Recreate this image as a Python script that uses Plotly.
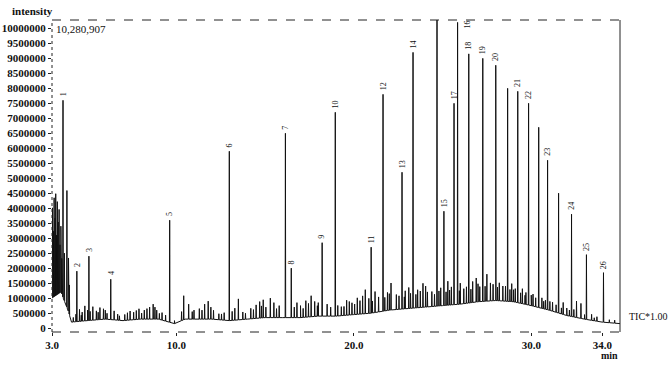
import numpy as np
import plotly.graph_objects as go

# ---- data (retention time in min, intensity in millions of counts) ----
peak_labels = [str(i) for i in range(1, 27)]
peak_times = [3.62, 4.40, 5.08, 6.31, 9.63, 12.99, 16.15, 16.48, 18.22, 18.96,
              20.98, 21.65, 22.72, 23.34, 25.08, 25.85, 25.65, 26.48, 27.27, 28.00,
              29.24, 29.85, 30.92, 32.27, 33.11, 34.07]
peak_tops = [7.6, 1.9, 2.4, 1.63, 3.6, 5.9, 6.5, 2.0, 2.85, 7.2,
             2.7, 7.8, 5.2, 9.2, 3.9, 10.2, 7.5, 9.15, 9.0, 8.77,
             7.9, 7.5, 5.6, 3.8, 2.45, 1.85]

# unlabelled large peaks (absolute tops)
other_times = [24.69, 28.67, 30.42, 31.54]
other_tops = [10.28, 8.0, 6.7, 4.5]

# baseline drift knots
base_times = [3.0, 3.5, 3.9, 4.1, 5.0, 6.0, 7.0, 8.0, 9.0, 9.9, 10.5, 12.0, 13.0, 14.0,
              15.0, 16.0, 17.0, 18.0, 19.0, 20.0, 21.0, 22.0, 23.0, 24.0, 25.0, 26.0,
              27.0, 28.0, 29.0, 30.0, 31.0, 32.0, 33.0, 34.0, 35.0]
base_levels = [1.0, 1.2, 0.6, 0.2, 0.25, 0.3, 0.25, 0.3, 0.3, 0.15, 0.3, 0.3, 0.25, 0.3,
               0.35, 0.35, 0.35, 0.4, 0.4, 0.45, 0.5, 0.6, 0.65, 0.7, 0.75, 0.8,
               0.88, 0.92, 0.88, 0.75, 0.6, 0.42, 0.3, 0.2, 0.15]

# minor peaks (height above baseline)
minor_times = [3.03, 3.08, 3.12, 3.17, 3.21, 3.26, 3.30, 3.35, 3.40, 3.45, 3.50, 3.55, 3.70,
               3.84, 3.93, 3.98,
               4.2, 4.55, 4.7, 4.85, 5.0, 5.3, 5.5, 5.7, 5.9, 6.1, 6.5, 6.8, 7.1, 7.4, 7.6,
               7.9, 8.2, 8.5, 8.7, 8.9, 9.2, 9.4, 9.9,
               10.3, 10.42, 10.7, 11.0, 11.3, 11.6, 11.8, 12.1, 12.4, 12.7, 13.3, 13.5, 13.9,
               14.2, 14.5, 14.7, 14.9, 15.3, 15.5, 15.8, 16.8, 17.0, 17.3, 17.6, 17.8, 18.0,
               18.5, 19.3, 19.6, 19.9,
               20.2, 20.5, 20.65, 21.2, 21.9, 22.1, 22.4, 22.9, 23.1, 23.6, 23.9, 24.05, 24.4,
               24.9, 25.3, 25.5, 26.0, 26.2, 26.7, 26.9, 27.1, 27.5, 27.7, 28.2, 28.4, 28.9,
               29.0, 29.5, 29.7, 30.1, 30.6, 30.8, 31.2, 31.4, 31.8, 32.0, 32.55, 32.8, 33.4,
               33.7, 34.4, 34.7,
               4.35, 4.65, 5.15, 5.6, 6.0, 6.7, 7.25, 7.75, 8.05, 8.35, 8.8, 9.05,
               10.9, 11.45, 11.95, 12.55, 13.15, 13.75, 14.35, 14.8, 15.05, 15.65, 16.65,
               17.15, 17.45, 17.95, 18.7, 19.1, 19.45, 19.75,
               20.05, 20.35, 20.85, 21.05, 21.4, 21.75, 22.0, 22.55, 22.85, 23.2, 23.5, 23.75,
               24.15, 24.55, 24.8, 25.2, 25.4, 25.95, 26.35, 26.6, 27.0, 27.4, 27.85, 28.1,
               28.55, 28.8, 29.1, 29.4, 29.65, 30.0, 30.25, 30.7, 31.05, 31.7, 32.15, 32.4,
               33.0, 33.55]
minor_heights = [3.0, 2.2, 3.3, 2.6, 3.4, 2.0, 3.1, 2.4, 2.8, 1.6, 2.2, 1.2, 1.6,
                 3.9, 1.8, 1.0,
                 0.15, 0.4, 0.3, 0.5, 0.35, 0.45, 0.3, 0.4, 0.35, 0.2, 0.3, 0.15, 0.2, 0.3, 0.25,
                 0.35, 0.3, 0.4, 0.5, 0.3, 0.25, 0.2, 0.1,
                 0.3, 0.8, 0.5, 0.3, 0.35, 0.5, 0.6, 0.3, 0.2, 0.25, 0.4, 0.7, 0.2,
                 0.35, 0.45, 0.55, 0.6, 0.65, 0.5, 0.4, 0.5, 0.4, 0.55, 0.7, 0.5, 0.45,
                 0.4, 0.3, 0.5, 0.4,
                 0.55, 0.6, 0.8, 0.7, 0.6, 0.9, 0.5, 0.6, 0.7, 0.6, 0.8, 0.7, 0.5,
                 0.6, 0.8, 0.6, 0.7, 0.5, 0.7, 0.8, 0.5, 0.9, 0.6, 0.6, 0.5, 0.6,
                 0.4, 0.5, 0.4, 0.4, 0.35, 0.3, 0.3, 0.25, 0.4, 0.25, 0.55, 0.5, 0.2,
                 0.15, 0.1, 0.1,
                 0.25, 0.2, 0.3, 0.25, 0.3, 0.2, 0.25, 0.3, 0.2, 0.35, 0.4, 0.2,
                 0.25, 0.3, 0.4, 0.2, 0.3, 0.25, 0.3, 0.4, 0.35, 0.3, 0.35,
                 0.3, 0.45, 0.35, 0.3, 0.35, 0.3, 0.45,
                 0.35, 0.45, 0.5, 0.4, 0.5, 0.45, 0.55, 0.45, 0.4, 0.5, 0.45, 0.55,
                 0.5, 0.4, 0.5, 0.45, 0.5, 0.45, 0.55, 0.45, 0.6, 0.5, 0.55, 0.45,
                 0.5, 0.4, 0.45, 0.35, 0.3, 0.35, 0.3, 0.25, 0.3, 0.2, 0.2, 0.25,
                 0.15, 0.1]

y_ticks = [i * 500000 for i in range(21)]
x_ticks = [3.0, 10.0, 20.0, 30.0, 34.0]
x_tick_text = ["3.0", "10.0", "20.0", "30.0", "34.0"]

# ---- build the chromatogram polyline from the peak table ----
def base(t):
    return np.interp(t, base_times, base_levels)

w = 0.015
pts = [(t, b) for t, b in zip(base_times, base_levels)]
all_peaks = [(t, top) for t, top in zip(peak_times, peak_tops)]
all_peaks += [(t, top) for t, top in zip(other_times, other_tops)]
all_peaks += [(t, base(t) + h) for t, h in zip(minor_times, minor_heights)]
for t, top in all_peaks:
    pts.append((t - w, float(base(t - w))))
    pts.append((t, top))
    pts.append((t + w, float(base(t + w))))
pts.sort(key=lambda p: p[0])
xs = [p[0] for p in pts]
ys = [p[1] * 1e6 for p in pts]

fig = go.Figure()
fig.add_trace(go.Scatter(x=xs, y=ys, mode="lines",
                         line=dict(color="#111111", width=1), hoverinfo="skip"))

serif = "Liberation Serif, Times New Roman, Times, serif"
for lab, t, top in zip(peak_labels, peak_times, peak_tops):
    if lab == "16":
        fig.add_annotation(x=t, y=top * 1e6, text=lab, showarrow=False, textangle=-90,
                           xanchor="left", yanchor="top", xshift=3, yshift=4,
                           font=dict(family=serif, size=8, color="#111"))
    else:
        fig.add_annotation(x=t, y=top * 1e6, text=lab, showarrow=False, textangle=-90,
                           xanchor="center", yanchor="bottom", yshift=2,
                           font=dict(family=serif, size=8, color="#111"))

fig.add_annotation(xref="paper", yref="paper", x=-0.074, y=1.0, yshift=1,
                   text="<b>intensity</b>", showarrow=False, xanchor="left", yanchor="bottom",
                   font=dict(family=serif, size=11, color="#111"))
fig.add_annotation(xref="paper", yref="paper", x=0.003, y=1.0, yshift=-1,
                   text="10,280,907", showarrow=False, xanchor="left", yanchor="top",
                   font=dict(family=serif, size=11, color="#111"))
fig.add_annotation(xref="paper", yref="paper", x=1.0, y=0.051, xshift=7,
                   text="TIC*1.00", showarrow=False, xanchor="left", yanchor="middle",
                   font=dict(family=serif, size=10, color="#111"))
fig.add_annotation(xref="paper", yref="paper", x=0.982, y=0, yshift=-23,
                   text="<b>min</b>", showarrow=False, xanchor="center", yanchor="middle",
                   font=dict(family=serif, size=10, color="#111"))

# frame (scanned look: dashed left/top/bottom, solid right)
fig.add_shape(type="line", xref="paper", yref="paper", x0=0, x1=0, y0=0, y1=1,
              line=dict(color="#222", width=1, dash="dot"))
fig.add_shape(type="line", xref="paper", yref="paper", x0=0, x1=1, y0=1, y1=1,
              line=dict(color="#222", width=1, dash="dash"))
fig.add_shape(type="line", xref="paper", yref="paper", x0=0, x1=1, y0=0, y1=0,
              line=dict(color="#222", width=1, dash="dash"))
fig.add_shape(type="line", xref="paper", yref="paper", x0=1, x1=1, y0=0, y1=1,
              line=dict(color="#222", width=1))

fig.update_layout(
    width=672, height=372,
    margin=dict(l=52, r=52, t=20, b=40, autoexpand=False),
    paper_bgcolor="white", plot_bgcolor="white",
    showlegend=False,
    xaxis=dict(range=[3.0, 35.0], tickvals=x_ticks,
               ticktext=["<b>" + s + "</b>" for s in x_tick_text],
               showgrid=False, zeroline=False, showline=False, automargin=False,
               ticks="outside", ticklen=3, tickcolor="#222",
               tickfont=dict(family=serif, size=11, color="#111")),
    yaxis=dict(range=[-0.13e6, 10.28e6], tickvals=y_ticks,
               ticktext=["<b>" + str(v) + "</b>" for v in y_ticks], automargin=False,
               showgrid=False, zeroline=False, showline=False,
               ticks="outside", ticklen=3, tickcolor="#222",
               tickfont=dict(family=serif, size=11, color="#111")),
)

fig.write_html("out.html", config={"displayModeBar": False},
               post_script="document.body.style.margin='0px';")
